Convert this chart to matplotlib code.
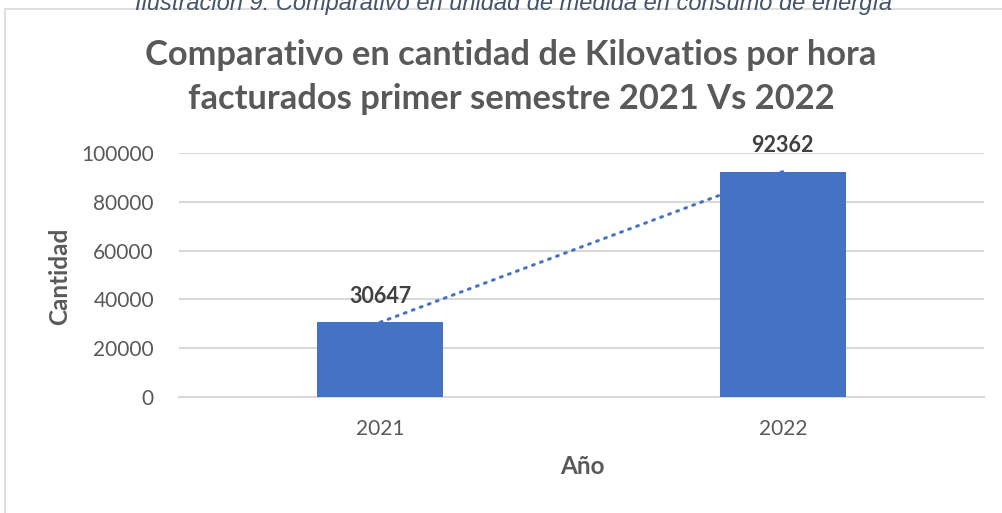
import matplotlib.pyplot as plt
from matplotlib.patches import Rectangle

years = ["2021", "2022"]
kwh = [30647, 92362]
yticks = [0, 20000, 40000, 60000, 80000, 100000]

BLUE = "#4472C4"
GRAY = "#595959"
DARK = "#404040"
GRID = "#D9D9D9"

plt.rcParams['font.family'] = ['Lato', 'DejaVu Sans']

fig = plt.figure(figsize=(10.02, 5.13), dpi=100)
W, H = 1002, 513

# chart frame (runs off the right and bottom edges)
fig.patches.append(Rectangle((5 / W, -0.1), 1.2, 1 - 9 / H + 0.1,
                             transform=fig.transFigure, fill=False,
                             edgecolor=GRID, linewidth=1.2))

# caption cut off at the top
fig.text(0.512, 1 - 10 / H, "Ilustración 9: Comparativo en unidad de medida en consumo de energía",
         ha='center', va='baseline', fontsize=17, style='italic',
         color="#44546A", family='Liberation Sans')

# plot area: x 179..984, y 153..397
ax = fig.add_axes([179 / W, 1 - 397 / H, (984 - 179) / W, (397 - 153) / H])

x = list(range(len(years)))
ax.plot(x, kwh, linestyle=(0, (0.6, 2.2)), dash_capstyle='round', color=BLUE,
        linewidth=2.2, zorder=2)
bars = ax.bar(x, kwh, width=0.313, color=BLUE, zorder=3)

for xi, v in zip(x, kwh):
    ax.annotate(str(v), (xi, v), xytext=(0, 18.5), textcoords='offset points',
                ha='center', va='center', fontsize=15.5, fontweight='bold',
                color=DARK, annotation_clip=False)

ax.set_xlim(-0.5, 1.5)
ax.set_ylim(0, 100000)
ax.set_yticks(yticks)
ax.set_yticklabels([str(t) for t in yticks])
ax.set_xticks(x)
ax.set_xticklabels(years)
ax.tick_params(axis='both', length=0, labelsize=15, labelcolor=GRAY)
ax.tick_params(axis='y', pad=18)
ax.tick_params(axis='x', pad=16)

ax.grid(axis='y', color=GRID, linewidth=1.5, zorder=0)
ax.set_axisbelow(True)
for s in ['top', 'right', 'left']:
    ax.spines[s].set_visible(False)
ax.spines['bottom'].set_color(GRID)
ax.spines['bottom'].set_linewidth(1.5)

fig.text(60 / W, 1 - 276 / H, "Cantidad", rotation=90, ha='center', va='center',
         fontsize=17.5, fontweight='bold', color=GRAY)
fig.text(582 / W, 1 - 467 / H, "Año", ha='center', va='center',
         fontsize=17.5, fontweight='bold', color=GRAY)

fig.text(0.51, 1 - 65 / H, "Comparativo en cantidad de Kilovatios por hora",
         ha='center', va='baseline', fontsize=24.8, fontweight='bold', color=GRAY)
fig.text(0.51, 1 - 109 / H, "facturados primer semestre 2021 Vs 2022",
         ha='center', va='baseline', fontsize=24.8, fontweight='bold', color=GRAY)

fig.savefig("out.png", dpi=100)
